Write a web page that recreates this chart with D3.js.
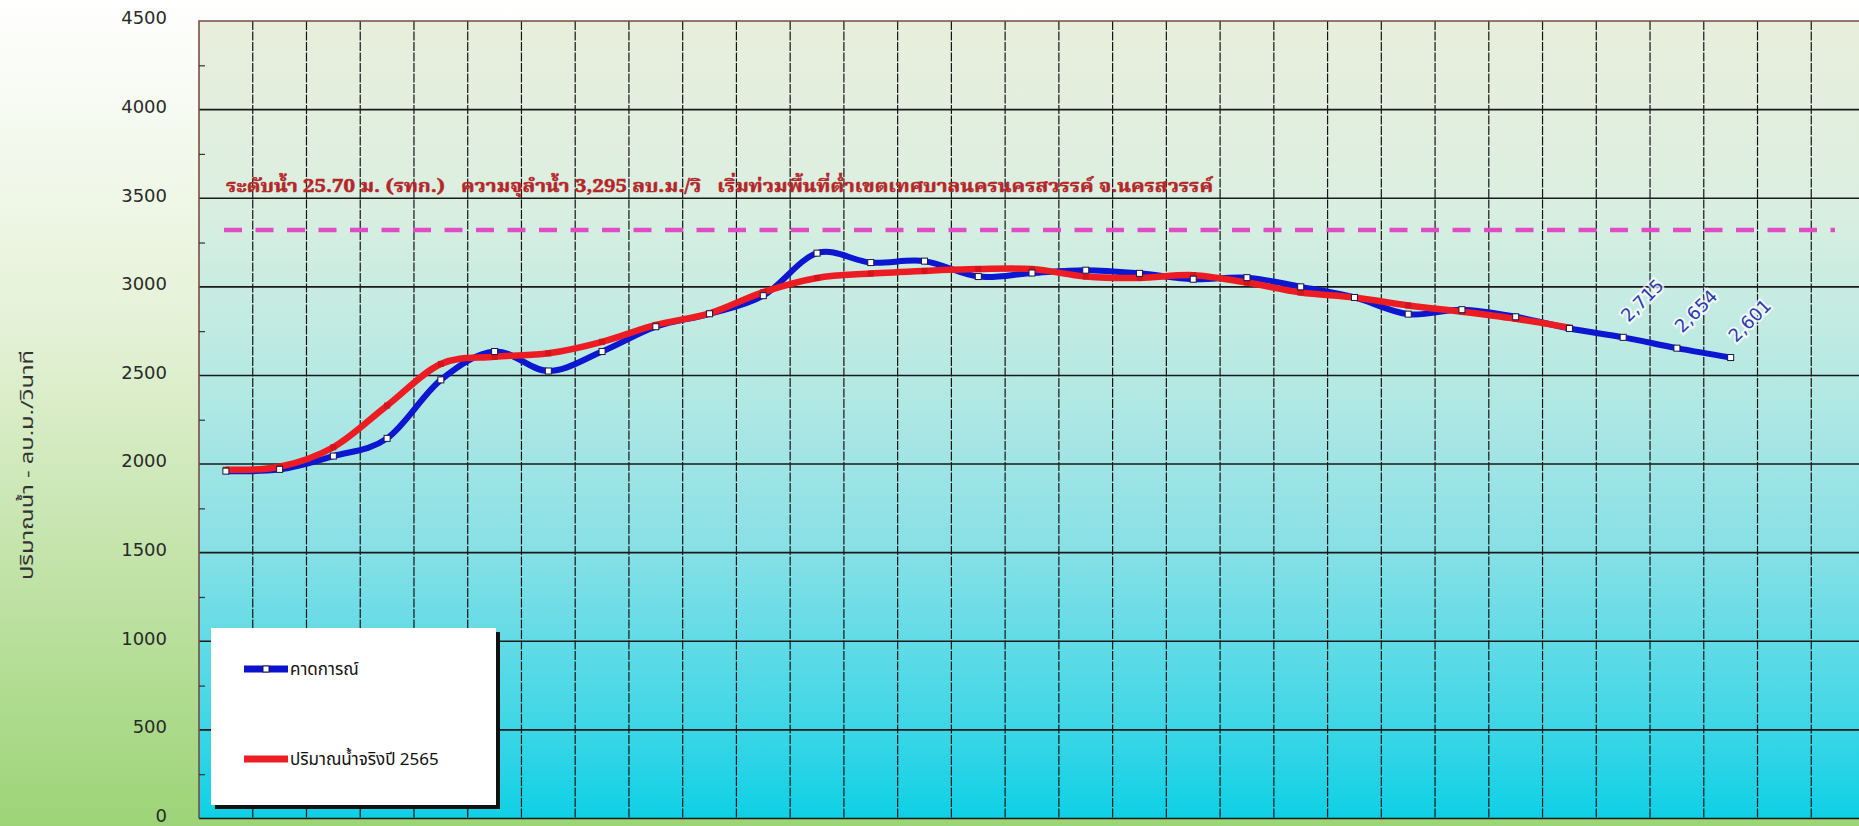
<!DOCTYPE html>
<head>
  <meta charset="utf-8">
  <script src="https://d3js.org/d3.v7.min.js"></script>
  <style>
    body { margin:0; overflow:hidden; background:#fff; }
    svg { display:block; }
    .ylab text { font-family: "DejaVu Sans", Verdana, sans-serif; font-size:18px; fill:#2a2a2a; }
    .thai { font-family: "Noto Sans Thai", "Noto Sans", "DejaVu Sans", sans-serif; }
  </style>
</head>
<body>
<script>
  // days of the month along the x axis (labels are cut off in the picture)
  var days = [1,2,3,4,5,6,7,8,9,10,11,12,13,14,15,16,17,18,19,20,21,22,23,24,25,26,27,28,29,30,31];

  // คาดการณ์ (forecast), m3/s
  var forecast = [1960,1970,2045,2145,2475,2635,2525,2635,2775,2848,
                  2950,3190,3137,3145,3058,3078,3094,3076,3043,3052,
                  3000,2940,2846,2871,2831,2765,2715,2654,2601];

  // ปริมาณน้ำจริงปี 2565 (observed), m3/s
  var actual = [1968,1985,2095,2330,2565,2605,2625,2690,2785,2850,
                2970,3050,3075,3090,3100,3100,3058,3050,3066,3024,
                2968,2940,2895,2860,2820,2770];

  var yTicks = [0,500,1000,1500,2000,2500,3000,3500,4000,4500];
  var yMinor = [250,750,1250,1750,2250,2750,3250,3750,4250];
  var dangerLevel = 3320;
  var labelledDays = [27,28,29];

  var seriesNames = ["คาดการณ์", "ปริมาณน้ำจริงปี 2565"];
  var noteText = "ระดับน้ำ 25.70 ม. (รทก.)   ความจุลำน้ำ 3,295 ลบ.ม./วิ   เริ่มท่วมพื้นที่ต่ำเขตเทศบาลนครนครสวรรค์ จ.นครสวรรค์";
  var yTitle = "ปริมาณน้ำ - ลบ.ม./วินาที";

  var width = 1859, height = 826;
  var plotL = 199, plotR = 1865, plotT = 21, plotB = 818.5;

  var svg = d3.select("body").append("svg")
      .attr("width", width).attr("height", height);

  var defs = svg.append("defs");
  var pageGrad = defs.append("linearGradient").attr("id", "pageGrad")
      .attr("x1", 0).attr("y1", 0).attr("x2", 0).attr("y2", 1);
  pageGrad.append("stop").attr("offset", "0").attr("stop-color", "#ffffff");
  pageGrad.append("stop").attr("offset", "0.4").attr("stop-color", "#e4f1d6");
  pageGrad.append("stop").attr("offset", "1").attr("stop-color", "#9dd477");

  var plotGrad = defs.append("linearGradient").attr("id", "plotGrad")
      .attr("x1", 0).attr("y1", 0).attr("x2", 0).attr("y2", 1);
  [["0", "#e9eedc"], ["0.22", "#dcefe0"], ["0.48", "#b0e8e4"],
   ["0.66", "#88e0e6"], ["0.85", "#4ad8e6"], ["1", "#0fd0e6"]].forEach(function (s) {
    plotGrad.append("stop").attr("offset", s[0]).attr("stop-color", s[1]);
  });

  var glow = defs.append("filter").attr("id", "glow")
      .attr("x", "-20%").attr("y", "-20%").attr("width", "140%").attr("height", "140%");
  glow.append("feGaussianBlur").attr("stdDeviation", 0.6);

  svg.append("rect").attr("width", width).attr("height", height).attr("fill", "url(#pageGrad)");

  var x = d3.scaleBand().domain(days).range([plotL, plotR]);
  var y = d3.scaleLinear().domain([0, 4500]).range([plotB, plotT]);
  var bw = x.bandwidth();
  function px(i) { return x(days[i]) + bw / 2; }

  svg.append("rect")
      .attr("x", plotL).attr("y", plotT)
      .attr("width", plotR - plotL).attr("height", plotB - plotT)
      .attr("fill", "url(#plotGrad)");

  // vertical grid (dashed)
  svg.append("g").selectAll("line")
    .data(days.slice(1))
    .enter().append("line")
      .attr("x1", function (d) { return x(d); })
      .attr("x2", function (d) { return x(d); })
      .attr("y1", plotT).attr("y2", plotB)
      .attr("stroke", "#151515").attr("stroke-width", 1.2)
      .attr("stroke-dasharray", "9,1.5");

  // horizontal grid
  svg.append("g").selectAll("line")
    .data(yTicks.slice(0, -1))
    .enter().append("line")
      .attr("x1", plotL).attr("x2", plotR)
      .attr("y1", function (d) { return y(d); })
      .attr("y2", function (d) { return y(d); })
      .attr("stroke", "#1a1a1a").attr("stroke-width", 1.6);

  // plot border (top + left)
  svg.append("path")
      .attr("d", "M" + plotL + "," + plotB + "V" + plotT + "H" + plotR)
      .attr("fill", "none").attr("stroke", "#7b4b43").attr("stroke-width", 1.6);

  // minor ticks, pointing into the plot
  svg.append("g")
      .attr("transform", "translate(" + plotL + ",0)")
      .call(d3.axisLeft(y).tickValues(yMinor).tickSize(-6).tickFormat(""))
      .call(function (g) { g.select(".domain").remove(); })
      .selectAll("line").attr("stroke", "#333").attr("stroke-width", 1.2);

  // y labels
  svg.append("g").attr("class", "ylab")
      .attr("transform", "translate(" + plotL + ",0)")
      .call(d3.axisLeft(y).tickValues(yTicks).tickSize(0).tickPadding(32).tickFormat(d3.format("d")))
      .call(function (g) { g.select(".domain").remove(); })
      .selectAll("text").attr("dy", "0.16em");

  svg.append("text").attr("class", "thai")
      .attr("transform", "translate(33," + 465 + ") rotate(-90)")
      .attr("text-anchor", "middle")
      .attr("font-size", 17).attr("fill", "#333")
      .attr("textLength", 230).attr("lengthAdjust", "spacingAndGlyphs")
      .text(yTitle);

  // danger level
  svg.append("line")
      .attr("x1", 224).attr("x2", 1835)
      .attr("y1", y(dangerLevel)).attr("y2", y(dangerLevel))
      .attr("stroke", "#e04cc4").attr("stroke-width", 4.5)
      .attr("stroke-dasharray", "18,13.5");

  svg.append("text")
      .attr("x", 226).attr("y", 192)
      .attr("font-family", "'Noto Serif Thai', 'Noto Sans Thai', 'Liberation Serif', serif")
      .attr("font-weight", "bold").attr("font-size", 18)
      .attr("fill", "#b3262a").attr("stroke", "#b3262a").attr("stroke-width", 0.5)
      .attr("textLength", 987).attr("lengthAdjust", "spacingAndGlyphs")
      .attr("xml:space", "preserve")
      .text(noteText);

  var line = d3.line()
      .x(function (d, i) { return px(i); })
      .y(function (d) { return y(d); })
      .curve(d3.curveCardinal.tension(0));

  svg.append("path").datum(forecast)
      .attr("d", line).attr("fill", "none")
      .attr("stroke", "#0a12d0").attr("stroke-width", 6)
      .attr("stroke-linejoin", "round").attr("filter", "url(#glow)");

  svg.append("path").datum(actual)
      .attr("d", line).attr("fill", "none")
      .attr("stroke", "#ec1d24").attr("stroke-width", 6.5)
      .attr("stroke-linejoin", "round").attr("filter", "url(#glow)");

  svg.append("g").selectAll("rect")
    .data(actual)
    .enter().append("rect")
      .attr("x", function (d, i) { return px(i) - 3; })
      .attr("y", function (d) { return y(d) - 3; })
      .attr("width", 6).attr("height", 6)
      .attr("fill", "#d4141c");

  svg.append("g").selectAll("rect")
    .data(forecast)
    .enter().append("rect")
      .attr("x", function (d, i) { return px(i) - 3; })
      .attr("y", function (d) { return y(d) - 3; })
      .attr("width", 6).attr("height", 6)
      .attr("fill", "#ffffff").attr("stroke", "#1a1a40").attr("stroke-width", 1);

  // value labels on the last forecast days
  svg.append("g").selectAll("text")
    .data(labelledDays)
    .enter().append("text")
      .attr("transform", function (d) {
        var i = days.indexOf(d);
        return "translate(" + (px(i) + 19) + "," + (y(forecast[i]) - 37) + ") rotate(-45)";
      })
      .attr("text-anchor", "middle").attr("dy", "0.35em")
      .attr("font-family", "'DejaVu Sans', Verdana, sans-serif")
      .attr("font-size", 18)
      .attr("fill", "#2d3bb0")
      .attr("stroke", "rgba(255,255,255,0.8)").attr("stroke-width", 4)
      .attr("paint-order", "stroke")
      .text(function (d) { return d3.format(",")(forecast[days.indexOf(d)]); });

  // legend
  var lg = svg.append("g").attr("transform", "translate(211,628)");
  lg.append("rect").attr("x", 4).attr("y", 4).attr("width", 285).attr("height", 177).attr("fill", "#111");
  lg.append("rect").attr("width", 285).attr("height", 177).attr("fill", "#ffffff");
  var colors = ["#0a12d0", "#ec1d24"];
  var rows = [41, 131];
  seriesNames.forEach(function (name, k) {
    lg.append("line")
        .attr("x1", 33).attr("x2", 77).attr("y1", rows[k]).attr("y2", rows[k])
        .attr("stroke", colors[k]).attr("stroke-width", 7);
    if (k === 0) {
      lg.append("rect").attr("x", 52).attr("y", rows[k] - 3).attr("width", 6).attr("height", 6)
          .attr("fill", "#fff").attr("stroke", "#1a1a40");
    }
    lg.append("text").attr("class", "thai")
        .attr("x", 79).attr("y", rows[k]).attr("dy", "0.35em")
        .attr("font-size", 17).attr("fill", "#111")
        .text(name);
  });
</script>
</body>
